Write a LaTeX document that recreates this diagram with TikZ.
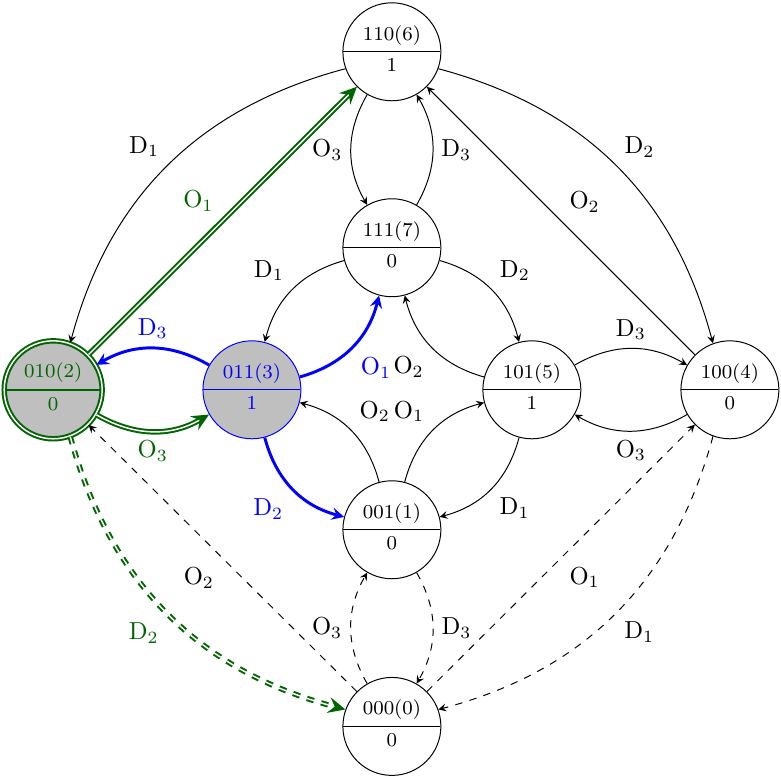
\documentclass[tikz,border=0pt]{standalone}
\usepackage{tikz}
\usetikzlibrary{shapes.multipart,arrows.meta}
\definecolor{verde}{RGB}{0,100,0}
\tikzset{
  stato/.style={circle split, draw, minimum size=1.4cm, inner sep=2.5pt, font=\footnotesize},
  attivo/.style={stato, draw=blue, text=blue, fill=gray!50},
  partenza/.style={stato, draw=verde, text=verde, fill=gray!50, double, thick},
  passo/.style={->, blue, very thick},
  scelta/.style={-{Stealth[length=7pt,width=6.5pt,inset=2.5pt]}, verde, double, thick}
}

\begin{document}
\begin{tikzpicture}[>=stealth]
  \useasboundingbox (-5.6,-5.56) rectangle (5.56,5.57);
  \node[stato] (s6) at (0,4.83) {110(6) \nodepart{lower} 1};
  \node[stato] (s7) at (0,2.03) {111(7) \nodepart{lower} 0};
  \node[partenza] (s2) at (-4.84,0) {010(2) \nodepart{lower} 0};
  \node[attivo] (s3) at (-2,0) {011(3) \nodepart{lower} 1};
  \node[stato] (s5) at (2,0) {101(5) \nodepart{lower} 1};
  \node[stato] (s4) at (4.83,0) {100(4) \nodepart{lower} 0};
  \node[stato] (s1) at (0,-2) {001(1) \nodepart{lower} 0};
  \node[stato] (s0) at (0,-4.81) {000(0) \nodepart{lower} 0};
  \draw[->] (s6.200) to[bend right=30] node[above left] {D$_1$} (s2.70);
  \draw[->] (s6.340) to[bend left=30] node[above right] {D$_2$} (s4.110);
  \draw[->] (s4) -- node[above right] {O$_2$} (s6);
  \draw[->] (s6.240) to[bend right=30] node[left] {O$_3$} (s7.120);
  \draw[->] (s7.60) to[bend right=30] node[right] {D$_3$} (s6.300);
  \draw[->] (s7.195) to[bend right=30] node[above left] {D$_1$} (s3.75);
  \draw[->] (s7.345) to[bend left=30] node[above right] {D$_2$} (s5.105);
  \draw[->] (s5.165) to[bend left=30] node[below left] {O$_2$} (s7.285);
  \draw[->] (s1.105) to[bend right=30] node[above right] {O$_2$} (s3.345);
  \draw[->] (s1.75) to[bend left=30] node[above left] {O$_1$} (s5.195);
  \draw[->] (s5.255) to[bend left=30] node[below right] {D$_1$} (s1.15);
  \draw[->] (s5.30) to[bend left=30] node[above] {D$_3$} (s4.150);
  \draw[->] (s4.210) to[bend left=30] node[below] {O$_3$} (s5.330);
  \draw[->, dashed] (s0.120) to[bend left=30] node[left] {O$_3$} (s1.240);
  \draw[->, dashed] (s1.300) to[bend left=30] node[right] {D$_3$} (s0.60);
  \draw[->, dashed] (s0) -- node[below right] {O$_1$} (s4);
  \draw[->, dashed] (s4.250) to[bend left=30] node[below right] {D$_1$} (s0.20);
  \draw[->, dashed] (s0) -- node[below left] {O$_2$} (s2);
  \draw[passo] (s3.15) to[bend right=30] node[below right] {O$_1$} (s7.255);
  \draw[passo] (s3.150) to[bend right=30] node[above] {D$_3$} (s2.30);
  \draw[passo] (s3.285) to[bend right=30] node[below left] {D$_2$} (s1.165);
  \draw[scelta] (s2) -- node[above left] {O$_1$} (s6);
  \draw[scelta] (s2.330) to[bend right=30] node[below] {O$_3$} (s3.210);
  \draw[scelta, dashed] (s2.290) to[bend right=30] node[below left] {D$_2$} (s0.160);
\end{tikzpicture}
\end{document}
